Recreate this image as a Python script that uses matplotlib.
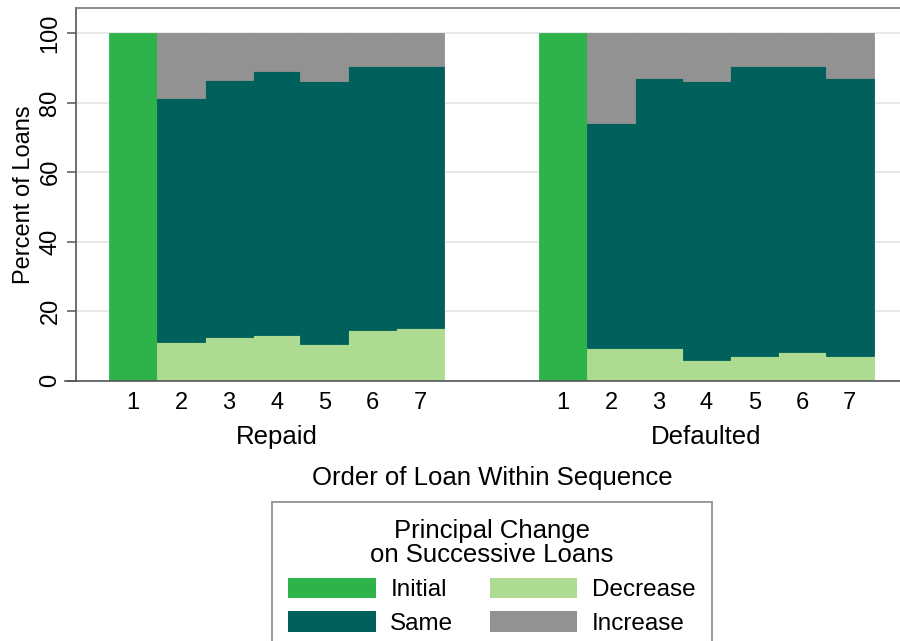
import matplotlib
matplotlib.use("Agg")
import matplotlib.pyplot as plt
from matplotlib.patches import Patch
from matplotlib.transforms import blended_transform_factory
import numpy as np

plt.rcParams['font.family'] = ['Liberation Sans', 'DejaVu Sans']

# Data (percent of loans)
groups = ['Repaid', 'Defaulted']
order = [1, 2, 3, 4, 5, 6, 7]
initial = {'Repaid':   [100, 0, 0, 0, 0, 0, 0],
           'Defaulted': [100, 0, 0, 0, 0, 0, 0]}
decrease = {'Repaid':   [0, 11.1, 12.6, 13.2, 10.7, 14.7, 15.3],
            'Defaulted': [0, 9.5, 9.5, 6.0, 7.0, 8.2, 7.0]}
same = {'Repaid':   [0, 70.3, 73.8, 75.8, 75.4, 75.9, 75.3],
        'Defaulted': [0, 64.7, 77.6, 80.1, 83.6, 82.4, 80.1]}
increase = {'Repaid':   [0, 18.6, 13.6, 11.0, 13.9, 9.4, 9.4],
            'Defaulted': [0, 25.8, 12.9, 13.9, 9.4, 9.4, 12.9]}

c_initial = '#2eb34b'
c_same = '#00605b'
c_decrease = '#addb91'
c_increase = '#929292'

fig = plt.figure(figsize=(9, 6.41), dpi=100)
ax = fig.add_axes([0.0844, 0.406, 0.9156, 0.5815])

gap = 2
tick_pos, tick_lab, centers = [], [], []
for g, name in enumerate(groups):
    x = np.arange(len(order)) + g * (len(order) + gap)
    ini = np.array(initial[name])
    dec = np.array(decrease[name])
    sam = np.array(same[name])
    inc = np.array(increase[name])
    kw = dict(width=1.0, linewidth=0.6)
    ax.bar(x, ini, color=c_initial, edgecolor=c_initial, **kw)
    ax.bar(x, dec, color=c_decrease, edgecolor=c_decrease, **kw)
    ax.bar(x, sam, bottom=dec, color=c_same, edgecolor=c_same, **kw)
    ax.bar(x, inc, bottom=dec + sam, color=c_increase, edgecolor=c_increase, **kw)
    tick_pos += list(x)
    tick_lab += [str(o) for o in order]
    centers.append(x.mean())

ax.set_xlim(-1.2, 16.05)
ax.set_ylim(0, 107.2)
ax.set_xticks(tick_pos)
ax.set_xticklabels(tick_lab, fontsize=17)
ax.tick_params(axis='x', length=0, pad=8)
ax.set_yticks([0, 20, 40, 60, 80, 100])
ax.tick_params(axis='y', length=6.5, width=1.1, color='#555555', pad=4, labelsize=17)
for lab in ax.get_yticklabels():
    lab.set_rotation(90)
    lab.set_va('center')
ax.yaxis.grid(True, color='#e6e6e6', linewidth=1.3)
ax.set_axisbelow(True)
ax.set_ylabel('Percent of Loans', fontsize=17, labelpad=3)

for s in ['top', 'left', 'bottom']:
    ax.spines[s].set_color('#555555')
    ax.spines[s].set_linewidth(1.2)
ax.spines['top'].set_color('#777777')
ax.spines['right'].set_visible(False)
# bottom axis line runs a little past the left spine
ax.plot([-1.42, -1.2], [0, 0], color='#555555', linewidth=1.2, clip_on=False)

trans = blended_transform_factory(ax.transData, ax.transAxes)
for c, name in zip(centers, groups):
    ax.text(c, -0.152, name, transform=trans, ha='center', va='center', fontsize=18.5)

fig.text(492 / 900, 1 - 478 / 641, 'Order of Loan Within Sequence',
         ha='center', va='center', fontsize=18.5)

handles = [Patch(facecolor=c_initial, label='Initial'),
           Patch(facecolor=c_same, label='Same'),
           Patch(facecolor=c_decrease, label='Decrease'),
           Patch(facecolor=c_increase, label='Increase')]
leg = fig.legend(handles=handles, ncol=2, loc='upper center',
                 bbox_to_anchor=(492 / 900, 1 - 502 / 641), borderaxespad=0,
                 title='Principal Change\non Successive Loans',
                 fontsize=17.5, title_fontsize=18.5, frameon=True, fancybox=False,
                 edgecolor='#777777', handlelength=3.6, handleheight=0.9,
                 columnspacing=1.5, handletextpad=0.6, labelspacing=0.42,
                 borderpad=0.68)
leg.get_title().set_multialignment('center')
leg.get_title().set_linespacing(1.05)
leg.get_frame().set_linewidth(1.3)

fig.savefig('out.png', dpi=100)
